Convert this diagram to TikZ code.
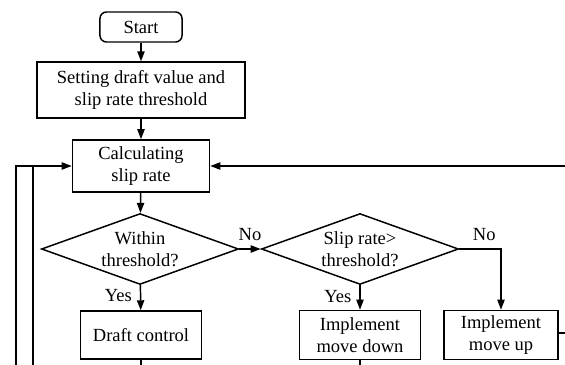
\documentclass[tikz,border=0pt]{standalone}
\usepackage{fontspec}
\setmainfont{Liberation Serif}
\usepackage{tikz}
\usetikzlibrary{arrows.meta,positioning,calc,shapes.geometric}

\begin{document}
\begin{tikzpicture}[x=0.54pt,y=-0.54pt,
  box/.style={draw,line width=0.8pt,align=center,inner sep=2pt},
  dec/.style={draw,line width=0.8pt,diamond,aspect=2.8,align=center,inner sep=0pt,
    minimum width=106.4pt,minimum height=38.3pt},
  arrow/.style={-{Triangle[length=5.4pt,width=3.9pt]},line width=0.8pt},
  link/.style={line width=0.8pt}]
  \useasboundingbox (0,0) rectangle (565,365);
  \node[box,rounded corners=3.5pt,minimum width=44.3pt,minimum height=16.2pt] (start) at (141,27) {Start};
  \node[box,minimum width=112.3pt,minimum height=30.2pt] (set) at (141,90) {Setting draft value and\\slip rate threshold};
  \node[box,minimum width=74pt,minimum height=28.1pt] (calc) at (141,166) {Calculating\\slip rate};
  \node[dec] (within) at (140,249) {Within\\threshold?};
  \node[box,minimum width=65.3pt,minimum height=25.9pt] (draft) at (141,335) {Draft control};
  \node[dec] (over) at (360,249) {Slip rate>\\threshold?};
  \node[box,minimum width=65.3pt,minimum height=26.5pt] (down) at (360,335) {Implement\\move down};
  \node[box,minimum width=61.6pt,minimum height=26.5pt] (up) at (501,335) {Implement\\move up};

  \coordinate (loopa) at (16,365);
  \coordinate (loopb) at (33,365);
  \coordinate (back) at (565,166);
  \coordinate (upout) at (565,333);
  \coordinate (draftout) at (141,365);
  \coordinate (downout) at (360,365);

  \draw[arrow] (start)--(set);
  \draw[arrow] (set)--(calc);
  \draw[arrow] (calc)--(within);
  \draw[arrow] (within)--(draft) node[pos=0.4,left=1pt] {Yes};
  \draw[arrow] (within.east)--(over.west) node[midway,above=1pt] {No};
  \draw[arrow] (over)--(down) node[pos=0.45,left=1pt] {Yes};
  \draw[arrow] (over.east)-|(up.north) node[pos=0.3,above=1pt] {No};

  \draw[arrow] (loopa)|-(calc.west);
  \draw[link] (loopb)--(loopb |- calc.west);
  \draw[arrow] (back)--(calc.east);
  \draw[link] (up.east |- upout)--(upout);
  \draw[link] (draft)--(draftout);
  \draw[link] (down)--(downout);
\end{tikzpicture}
\end{document}
